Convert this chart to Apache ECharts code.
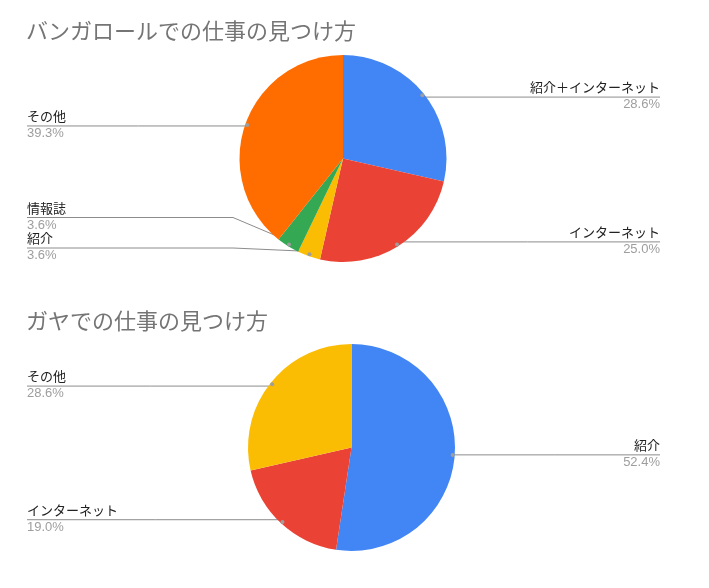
<!DOCTYPE html>
<html><head><meta charset="utf-8">
<script src="https://cdn.jsdelivr.net/npm/echarts@6/dist/echarts.min.js"></script>
<style>html,body{margin:0;padding:0;background:#fff}#c{width:709px;height:588px}</style>
</head><body><div id="c"></div>
<script>
const titleBangalore = 'バンガロールでの仕事の見つけ方';
const titleGaya = 'ガヤでの仕事の見つけ方';
const bangaloreCategories = ['紹介＋インターネット', 'インターネット', '紹介', '情報誌', 'その他'];
const bangaloreValues = [8, 7, 1, 1, 11];
const gayaCategories = ['紹介', 'インターネット', 'その他'];
const gayaValues = [11, 4, 6];
const bangaloreColors = ['#4285F4', '#EA4335', '#FBBC04', '#34A853', '#FF6D01'];
const gayaColors = ['#4285F4', '#EA4335', '#FBBC04'];

const R = 103.5, LEFT_EDGE = 27, RIGHT_EDGE = 660, DOT_INSET = 5, LINE_LEN = 5;
const centerB = [343, 158.5], centerG = [351.5, 447.5];
const FONT = 'Roboto, "Noto Sans CJK JP", sans-serif';
const NUM_FONT = '"Liberation Sans", Arial, sans-serif';

function toData(cats, vals, colors) {
  return cats.map((c, i) => ({ name: c, value: vals[i], itemStyle: { color: colors[i] } }));
}
function labelFormatter(vals) {
  const total = vals.reduce((a, b) => a + b, 0);
  return p => '{n|' + p.name + '}\n{p|' + (p.value / total * 100).toFixed(1) + '%}';
}
function makeLayout(center) {
  return function (params) {
    const pts = params.labelLinePoints;
    if (!pts || !pts.length) return {};
    const p0 = pts[0];
    const dx = p0[0] - center[0], dy = p0[1] - center[1];
    const d = Math.hypot(dx, dy) || 1;
    const ux = dx / d, uy = dy / d;
    const dot = [p0[0] - ux * DOT_INSET, p0[1] - uy * DOT_INSET];
    const right = dx >= 0;
    const edgeX = right ? RIGHT_EDGE : LEFT_EDGE;
    const ly = pts[pts.length - 1][1];
    const naturalY = p0[1] + uy * LINE_LEN;
    let y, linePts;
    if (Math.abs(ly - naturalY) < 5) {
      y = dot[1];
      linePts = [dot, [(dot[0] + edgeX) / 2, y], [edgeX, y]];
    } else {
      y = ly;
      const kneeX = right ? center[0] + R + 6.5 : center[0] - R - 6.5;
      linePts = [dot, [kneeX, y], [edgeX, y]];
    }
    return { x: edgeX, y: y, align: right ? 'right' : 'left', verticalAlign: 'middle', labelLinePoints: linePts };
  };
}
function mainSeries(center, cats, vals, colors, box) {
  return Object.assign({
    type: 'pie', center: center, radius: R, startAngle: 90, clockwise: true,
    data: toData(cats, vals, colors),
    avoidLabelOverlap: true, silent: true,
    itemStyle: { borderWidth: 0 },
    emphasis: { disabled: true },
    label: {
      show: true, position: 'outside', alignTo: 'edge', edgeDistance: 49,
      formatter: labelFormatter(vals),
      rich: {
        n: { fontSize: 13, lineHeight: 15, color: '#222222', fontFamily: FONT },
        p: { fontSize: 13, lineHeight: 16, color: '#9e9e9e', fontFamily: NUM_FONT }
      }
    },
    labelLine: { show: true, length: LINE_LEN, length2: 10, lineStyle: { color: '#8c8c8c', width: 1 } },
    labelLayout: makeLayout(center)
  }, box || {});
}
function dotSeries(center, cats, vals, box) {
  return Object.assign({
    type: 'pie', center: center, radius: [R - 10, R], startAngle: 90, clockwise: true,
    data: cats.map((c, i) => ({ name: c, value: vals[i] })),
    silent: true, z: 5,
    itemStyle: { color: 'rgba(0,0,0,0)', borderWidth: 0 },
    emphasis: { disabled: true },
    label: {
      show: true, position: 'inside', formatter: '{dot| }',
      rich: { dot: { width: 4, height: 4, borderRadius: 2, backgroundColor: '#9e9e9e' } }
    },
    labelLine: { show: false }
  }, box || {});
}
const boxB = { left: 0, right: 0, top: 0, height: 263 };
const chart = echarts.init(document.getElementById('c'));
chart.setOption({
  animation: false,
  backgroundColor: '#ffffff',
  title: [
    { text: titleBangalore, left: 26, top: 22, padding: 0, textStyle: { fontSize: 22, lineHeight: 22, fontWeight: 'normal', color: '#757575', fontFamily: FONT } },
    { text: titleGaya, left: 26, top: 312, padding: 0, textStyle: { fontSize: 22, lineHeight: 22, fontWeight: 'normal', color: '#757575', fontFamily: FONT } }
  ],
  series: [
    mainSeries(centerB, bangaloreCategories, bangaloreValues, bangaloreColors, boxB),
    mainSeries(centerG, gayaCategories, gayaValues, gayaColors),
    dotSeries(centerB, bangaloreCategories, bangaloreValues, boxB),
    dotSeries(centerG, gayaCategories, gayaValues)
  ]
});
</script></body></html>
